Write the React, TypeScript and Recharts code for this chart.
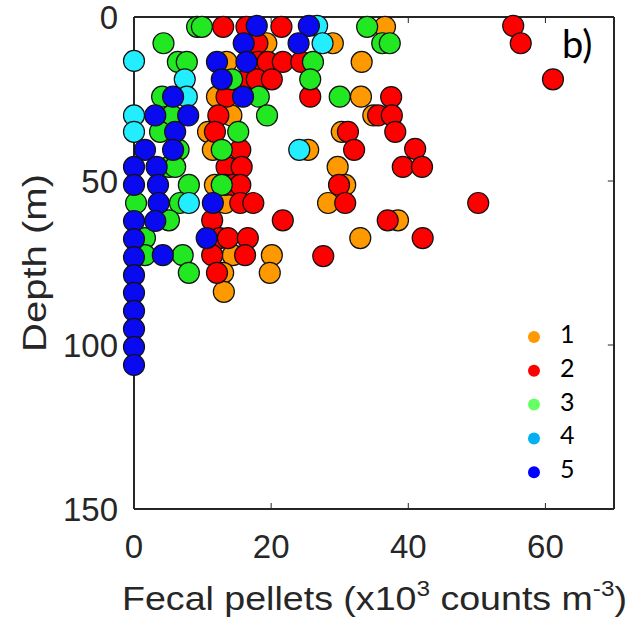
import { ScatterChart, Scatter, XAxis, YAxis, Legend, Customized, ReferenceLine } from "recharts";

// station groups
const groupNames = ["1", "2", "3", "4", "5"];
const dotColors = ["#FF9900", "#FF0000", "#22E822", "#22EEFF", "#0A0AF0"];
const legendColors = ["#FF9900", "#FF0000", "#66FF66", "#00B0F0", "#0000FF"];

const xTicks = [0, 20, 40, 60];
const yTicks = [0, 50, 100, 150];

// fecal pellets (x10^3 counts m^-3) and depth (m), per group
const g1Pellets = [36.6, 29.0, 19.3, 13.5, 33.2, 12.1, 33.1, 14.2, 34.9, 10.8, 30.3, 11.5, 25.4, 29.7, 11.8, 30.8, 28.3, 13.3, 38.5, 33.0, 14.4, 20.1, 19.8, 13.0, 13.1];
const g1Depth = [3, 8, 8, 13.7, 13.7, 24.3, 24.3, 30, 30, 35, 35, 40.5, 40.5, 45.7, 51.2, 51.2, 56.7, 56.7, 62, 67.4, 72.6, 72.6, 78, 78, 83.8];

const g2Pellets = [13.0, 16.4, 21.5, 55.3, 18.0, 56.4, 18.1, 19.5, 21.7, 24.4, 61.1, 16.4, 17.9, 20.1, 13.5, 25.7, 37.5, 12.3, 35.6, 37.6, 11.8, 31.2, 38.1, 15.5, 32.1, 41.0, 13.5, 15.7, 39.2, 42.0, 13.3, 14.4, 15.5, 29.9, 15.5, 17.4, 30.8, 50.2, 11.4, 21.7, 37.0, 12.5, 13.7, 16.6, 42.1, 11.4, 16.2, 27.6, 12.1];
const g2Depth = [3, 3, 3, 2.7, 8, 8, 13.7, 13.7, 13.7, 13.7, 19, 19, 19, 19, 24.3, 24.3, 24.4, 30, 30, 30, 35, 35, 35, 40.5, 40.5, 40.2, 45.7, 45.7, 45.7, 45.7, 51.2, 51.2, 51.2, 51.2, 56.7, 56.7, 56.7, 56.7, 62, 62, 62, 67.4, 67.4, 67.4, 67.4, 72.6, 72.6, 72.9, 78];

const g3Pellets = [9.2, 9.9, 34.0, 4.3, 36.2, 37.3, 6.4, 7.7, 26.1, 14.3, 25.7, 4.1, 18.2, 30.0, 5.5, 19.4, 3.8, 15.2, 6.5, 12.8, 5.1, 6.0, 8.0, 12.8, 0.3, 6.7, 5.1, 1.6, 1.6, 7.1, 8.0];
const g3Depth = [3, 3, 3, 8, 8, 8, 13.7, 13.7, 13.7, 19, 19, 24.3, 24.3, 24.3, 30, 30, 35, 35, 40.5, 40.5, 45.7, 45.7, 51.2, 51.2, 56.7, 56.7, 62, 67.4, 72.6, 72.6, 78];

const g4Pellets = [26.7, 27.5, 0, 7.4, 7.7, 0, 0, 24.1, 8.0];
const g4Depth = [2.7, 8, 13.4, 19, 24.3, 30, 35, 40.5, 56.7];

const g5Pellets = [17.9, 25.5, 16.0, 24.0, 12.1, 16.4, 12.8, 5.7, 15.9, 3.1, 7.9, 6.0, 1.6, 5.7, 0, 3.3, 0, 3.5, 3.6, 11.5, 0, 3.1, 10.6, 0, 4.2, 0, 0, 0, 0, 0, 0, 0];
const g5Depth = [2.7, 2.7, 8, 8, 13.7, 13.7, 19, 24.3, 24.3, 30, 30, 35, 40.5, 40.5, 45.7, 45.7, 51.2, 51.2, 56.7, 56.7, 62.2, 62.2, 67.4, 67.7, 72.6, 73.2, 78.7, 84.1, 89.6, 95.1, 100.6, 106.1];

const groups = [
  [g1Pellets, g1Depth],
  [g2Pellets, g2Depth],
  [g3Pellets, g3Depth],
  [g4Pellets, g4Depth],
  [g5Pellets, g5Depth],
].map(([xs, ds]) => xs.map((x, i) => ({ x, d: ds[i] })));

const axisColor = "#262626";
const sans = "'Liberation Sans', Arial, sans-serif";
const tickFont = { fill: axisColor, fontSize: 33, fontFamily: sans };

// plot frame (px) shared by the margins and the top edge of the box
const W = 642;
const H = 625;
const plotLeft = 134;
const plotTop = 17;
const plotRight = 614;
const xMax = 70;

const LegendBox = () => (
  <svg width={110} height={180} style={{ overflow: "visible" }}>
    {groupNames.map((n, i) => (
      <g key={n}>
        <circle cx={14} cy={17 + i * 33.8} r={6} fill={legendColors[i]} />
        <text x={40} y={23 + i * 33.8} fontSize={25} fontFamily="Lato, sans-serif" fill="#000">
          {n}
        </text>
      </g>
    ))}
  </svg>
);

// titles, panel letter and top edge of the MATLAB-style box
const Overlay = () => (
  <g>
    <path d={`M${plotLeft},${plotTop}H${plotRight}`} stroke={axisColor} strokeWidth={2} fill="none" />
    {xTicks.slice(1).map((t) => {
      const px = plotLeft + ((plotRight - plotLeft) * t) / xMax;
      return <path key={t} d={`M${px},${plotTop}V${plotTop + 6}`} stroke={axisColor} strokeWidth={1} fill="none" />;
    })}
    <text
      x={122}
      y={610}
      fontSize={34}
      fill={axisColor}
      fontFamily={sans}
      textLength={505}
      lengthAdjust="spacingAndGlyphs"
    >
      Fecal pellets (x10
      <tspan dy={-14} fontSize={22}>3</tspan>
      <tspan dy={14}> counts m</tspan>
      <tspan dy={-14} fontSize={22}>-3</tspan>
      <tspan dy={14}>)</tspan>
    </text>
    <text
      transform="translate(46,263) rotate(-90)"
      textAnchor="middle"
      fontSize={34}
      fill={axisColor}
      fontFamily={sans}
      textLength={178}
      lengthAdjust="spacingAndGlyphs"
    >
      Depth (m)
    </text>
    <text x={562} y={58} fontSize={38} fill="#000" fontFamily="Lato, sans-serif">b)</text>
  </g>
);

export default function App() {
  return (
    <div style={{ position: "absolute", left: 0, top: 0, width: W, height: H, background: "#fff" }}>
      <ScatterChart width={W} height={H} margin={{ top: plotTop, right: W - plotRight, bottom: 0, left: 0 }}>
        <XAxis
          xAxisId="b"
          type="number"
          dataKey="x"
          domain={[0, xMax]}
          ticks={xTicks}
          interval={0}
          height={116}
          tickSize={-6}
          tickMargin={32}
          axisLine={{ stroke: axisColor, strokeWidth: 2 }}
          tickLine={{ stroke: axisColor }}
          tick={tickFont}
        />
        <YAxis
          yAxisId="l"
          type="number"
          dataKey="d"
          domain={[0, 150]}
          ticks={yTicks}
          interval={0}
          reversed
          width={plotLeft}
          tickSize={-6}
          tickMargin={22}
          axisLine={{ stroke: axisColor, strokeWidth: 2 }}
          tickLine={{ stroke: axisColor }}
          tick={tickFont}
        />
        {/* right edge of the box with inward ticks */}
        <ReferenceLine xAxisId="b" yAxisId="l" x={xMax} stroke={axisColor} strokeWidth={2} />
        {yTicks.slice(1, 3).map((t) => (
          <ReferenceLine
            key={"ty" + t}
            xAxisId="b"
            yAxisId="l"
            segment={[{ x: xMax, y: t }, { x: xMax - 0.9, y: t }]}
            stroke={axisColor}
          />
        ))}
        {groups.map((data, i) => (
          <Scatter
            key={groupNames[i]}
            name={groupNames[i]}
            data={data}
            xAxisId="b"
            yAxisId="l"
            fill={dotColors[i]}
            isAnimationActive={false}
            shape={(p: any) => (
              <circle cx={p.cx} cy={p.cy} r={10.5} fill={dotColors[i]} stroke="#111" strokeWidth={1.2} />
            )}
          />
        ))}
        <Legend
          layout="horizontal"
          verticalAlign="middle"
          align="center"
          content={() => <LegendBox />}
          wrapperStyle={{ left: 520, top: 320, width: 110, height: 180 }}
        />
        <Customized component={Overlay} />
      </ScatterChart>
    </div>
  );
}
